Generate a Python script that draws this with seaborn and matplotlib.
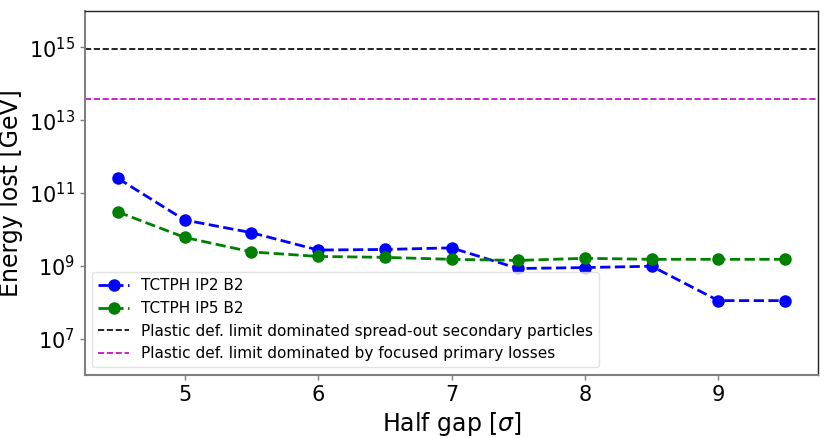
import numpy as np
import pandas as pd
import matplotlib
matplotlib.use("Agg")
import matplotlib.pyplot as plt
import seaborn as sns

sns.set_style("white")
plt.rcParams['font.family'] = ['DejaVu Sans']
plt.rcParams['mathtext.fontset'] = 'dejavusans'
plt.rcParams['text.color'] = 'black'
plt.rcParams['axes.labelcolor'] = 'black'
plt.rcParams['xtick.color'] = 'black'
plt.rcParams['ytick.color'] = 'black'

half_gap = [4.5, 5.0, 5.5, 6.0, 6.5, 7.0, 7.5, 8.0, 8.5, 9.0, 9.5]
ip2_b2 = [2.5e11, 1.8e10, 8.1e9, 2.7e9, 2.8e9, 3.1e9, 8.4e8, 8.9e8, 9.7e8, 1.1e8, 1.1e8]
ip5_b2 = [3.0e10, 6.0e9, 2.4e9, 1.8e9, 1.7e9, 1.5e9, 1.4e9, 1.6e9, 1.5e9, 1.5e9, 1.5e9]
limit_secondary = 9.0e14
limit_primary = 3.8e13

df = pd.DataFrame({'Half gap': half_gap, 'IP2': ip2_b2, 'IP5': ip5_b2})

fig = plt.figure(figsize=(8.3, 4.38), dpi=100)
ax = fig.add_axes([0.102, 0.144, 0.884, 0.831])

sns.lineplot(data=df, x='Half gap', y='IP2', ax=ax, color='blue', linestyle='--',
             marker='o', markersize=9, markeredgewidth=0, linewidth=2,
             label='TCTPH IP2 B2')
sns.lineplot(data=df, x='Half gap', y='IP5', ax=ax, color='green', linestyle='--',
             marker='o', markersize=9, markeredgewidth=0, linewidth=2,
             label='TCTPH IP5 B2')
ax.axhline(limit_secondary, color='black', linestyle='--', linewidth=1.2,
           label='Plastic def. limit dominated spread-out secondary particles')
ax.axhline(limit_primary, color='m', linestyle='--', linewidth=1.2,
           label='Plastic def. limit dominated by focused primary losses')

ax.set_yscale('log')
ax.set_ylim(1e6, 1e16)
ax.set_xlim(4.25, 9.75)
ax.set_yticks([1e7, 1e9, 1e11, 1e13, 1e15])
ax.set_yticklabels([r'$10^{7}$', r'$10^{9}$', r'$10^{11}$', r'$10^{13}$', r'$10^{15}$'])
ax.minorticks_off()
ax.set_xticks([5, 6, 7, 8, 9])

ax.tick_params(axis='both', labelsize=15, length=3.5, width=1, direction='out',
               left=True, bottom=True, color='#808080', labelcolor='black')
ax.set_xlabel(r'Half gap [$\sigma$]', fontsize=17, color='black')
ax.set_ylabel('Energy lost [GeV]', fontsize=17, color='black')

for side in ['left', 'bottom']:
    ax.spines[side].set_color('#808080')
    ax.spines[side].set_linewidth(1.5)
for side in ['top', 'right']:
    ax.spines[side].set_color('#222222')
    ax.spines[side].set_linewidth(1.0)

leg = ax.legend(loc='lower left', fontsize=11, frameon=True, framealpha=0.8,
                edgecolor='#dddddd', borderaxespad=0.5)
for t in leg.get_texts():
    t.set_color('black')

plt.savefig('out.png', dpi=100)
plt.close()
